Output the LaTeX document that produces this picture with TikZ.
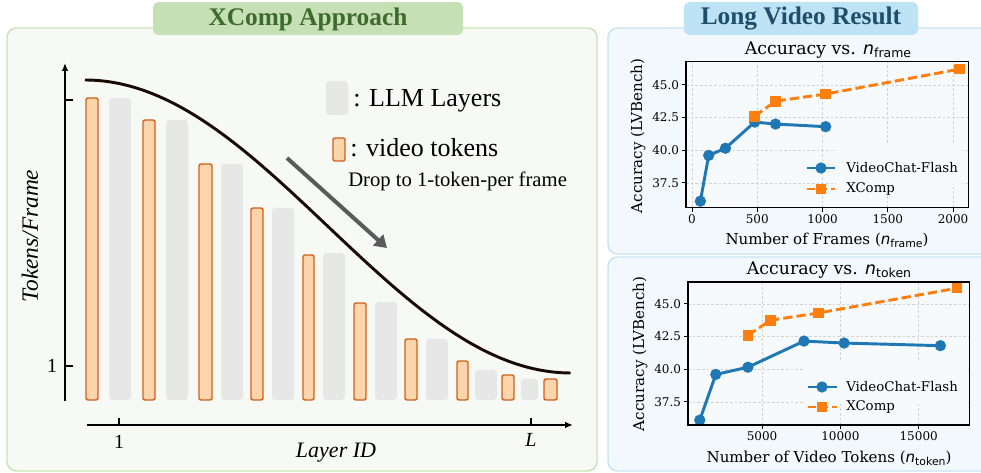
\documentclass[tikz,border=0pt]{standalone}
\usepackage{fontspec}
\setmainfont{Liberation Serif}
\newfontfamily\plotfont{DejaVu Serif}
\newfontfamily\plotsans{DejaVu Sans}
\usetikzlibrary{arrows.meta}
\definecolor{greenpanel}{HTML}{F7F9F4}
\definecolor{greenedge}{HTML}{C9E3B9}
\definecolor{greentab}{HTML}{C5E0B4}
\definecolor{greentext}{HTML}{3F6A2E}
\definecolor{bluepanel}{HTML}{F3F8FC}
\definecolor{blueedge}{HTML}{C6E2F4}
\definecolor{bluetab}{HTML}{BEE3F4}
\definecolor{bluetext}{HTML}{1F4E6A}
\definecolor{barorange}{HTML}{FDD5AC}
\definecolor{bardark}{HTML}{D2601A}
\definecolor{bargray}{HTML}{E7E7E7}
\definecolor{curvedark}{HTML}{1A0A05}
\definecolor{arrowgray}{HTML}{5A5A5A}
\definecolor{vcfblue}{HTML}{1F77B4}
\definecolor{xcorange}{HTML}{FF7F0E}
\definecolor{axesbg}{HTML}{F6FAFD}
\def\nsub#1{{\plotsans\itshape n}\raisebox{-0.4ex}{\scalebox{0.72}{\plotsans #1}}}

\tikzset{
  tokenbar/.style={fill=barorange, draw=bardark, line width=1.1pt, rounded corners=1.5pt},
  layerbar/.style={fill=bargray, rounded corners=2.5pt},
  vcfline/.style={draw=vcfblue, line width=2.2pt},
  xcline/.style={draw=xcorange, line width=2.2pt, dash pattern=on 7pt off 3pt},
  vcfdot/.style={circle, fill=vcfblue, inner sep=0pt, minimum size=8.5pt},
  xcsq/.style={rectangle, fill=xcorange, inner sep=0pt, minimum size=8pt},
  gridline/.style={draw=gray!35, line width=0.5pt, dash pattern=on 2pt off 1.5pt},
  ticktext/.style={font=\plotfont\fontsize{9}{9}\selectfont, inner sep=0pt},
  labeltext/.style={font=\plotfont\fontsize{11.3}{12}\selectfont, inner sep=0pt},
  legtext/.style={font=\plotfont\fontsize{10}{10}\selectfont, inner sep=0pt, anchor=west},
  tabtitle/.style={font=\fontsize{19}{19}\selectfont\bfseries, inner sep=0pt}
}

\begin{document}
\begin{tikzpicture}[x=0.75pt, y=-0.75pt]
  %%%%% START %%%%%
  \useasboundingbox (0,0) rectangle (981,473);

  % panels
  \draw[fill=greenpanel, draw=greenedge, line width=1.1pt, rounded corners=7pt] (7,28) rectangle (597,471);
  \draw[fill=bluepanel, draw=blueedge, line width=1.1pt, rounded corners=7pt] (608,28) rectangle (995,254);
  \draw[fill=bluepanel, draw=blueedge, line width=1.1pt, rounded corners=7pt] (608,257) rectangle (995,471);

  \fill[greentab, rounded corners=4pt] (153,2) rectangle (463,35);
  \node[tabtitle, text=greentext] (lefttitle) at (308,19) {XComp Approach};
  \fill[bluetab, rounded corners=4pt] (684,2) rectangle (918,35);
  \node[tabtitle, text=bluetext] (righttitle) at (801,19) {Long Video Result};

  % layers and tokens
  \foreach \xa/\xb/\yt in {109/131/98, 166/188/120, 221/243/164, 272/294/208, 323/345/253,
      375/397/302, 426/448/339, 475/497/370, 521/538/379}
    \fill[layerbar] (\xa,400) rectangle (\xb,\yt);
  \foreach \xa/\xb/\yt in {86/98/98, 143/155/120, 199/212/164, 251/263/208, 303/314/255,
      354/366/303, 405/417/339, 457/468/361, 502/514/375, 544/557/379}
    \draw[tokenbar] (\xa,400) rectangle (\xb,\yt);

  \draw[curvedark, line width=2.2pt] plot[domain=0:1, samples=80, smooth] ({85+486*\x}, {80+293*(1-cos(180*\x))/2});

  % axes
  \coordinate (ybot) at (65,401);
  \coordinate (ytop) at (65,63);
  \coordinate (xleft) at (87,425);
  \coordinate (xright) at (573,425);
  \draw[line width=1.5pt, -{Latex[length=6pt, width=5pt]}] (ybot) -- (ytop);
  \draw[line width=1.5pt, -{Latex[length=6pt, width=5pt]}] (xleft) -- (xright);
  \draw[line width=1.5pt] (65,100) -- (73,100);
  \draw[line width=1.5pt] (65,366) -- (73,366);
  \draw[line width=1.5pt] (119,418) -- (119,425);
  \draw[line width=1.5pt] (531,418) -- (531,425);
  \node[font=\fontsize{15}{15}\selectfont] (yone) at (52,366) {1};
  \node[font=\fontsize{15}{15}\selectfont] (xone) at (119,442) {1};
  \node[font=\fontsize{15}{15}\selectfont\itshape] (xlast) at (531,440) {L};
  \node[font=\fontsize{16.5}{16.5}\selectfont\itshape, anchor=base] (xname) at (336,458) {Layer ID};
  \node[font=\fontsize{17.5}{17.5}\selectfont\itshape, rotate=90] (yname) at (30,236) {Tokens/Frame};

  % legend
  \fill[layerbar] (326,81) rectangle (348,115);
  \draw[tokenbar] (333,138) rectangle (345,161);
  \node[font=\fontsize{19.5}{19.5}\selectfont, anchor=base west, inner sep=0pt] (layerkey) at (353,107) {: LLM Layers};
  \node[font=\fontsize{19.5}{19.5}\selectfont, anchor=base west, inner sep=0pt] (tokenkey) at (350,157) {: video tokens};
  \node[font=\fontsize{15.5}{15.5}\selectfont, anchor=base west, inner sep=0pt] (dropnote) at (348,187) {Drop to 1-token-per frame};

  \coordinate (droptail) at (287,158);
  \coordinate (drophead) at (387,248);
  \draw[arrowgray, line width=3pt, -{Triangle[length=9pt, width=11pt]}] (droptail) -- (drophead);

  % accuracy vs frames
  \begin{scope}[shift={(692,673)}, x=0.0979pt, y=9.8025pt]
    \fill[axesbg] (-46,35.59) rectangle (2115,46.76);
    \foreach \v [count=\i] in {0,500,1000,1500,2000} {
      \draw[gridline] (\v,35.59) -- (\v,46.76);
      \draw[line width=0.6pt] (\v,35.59) -- ++(0,-3pt);
      \node[ticktext, anchor=north, yshift=-5pt] (fxt\i) at (\v,35.59) {\v};
    }
    \foreach \v [count=\i] in {37.5,40.0,42.5,45.0} {
      \draw[gridline] (-46,\v) -- (2115,\v);
      \draw[line width=0.6pt] (-46,\v) -- ++(-3pt,0);
      \node[ticktext, anchor=east, xshift=-5pt] (fyt\i) at (-46,\v) {\v};
    }
    \fill[axesbg] (1105,37.35) rectangle (2075,40.55);
    \foreach \x/\y [count=\i] in {64/36.1, 128/39.6, 256/40.15, 480/42.15, 640/42.0, 1024/41.8}
      \coordinate (fv\i) at (\x,\y);
    \foreach \x/\y [count=\i] in {480/42.6, 640/43.75, 1024/44.3, 2048/46.2}
      \coordinate (fx\i) at (\x,\y);
    \draw[vcfline] (fv1) -- (fv2) -- (fv3) -- (fv4) -- (fv5) -- (fv6);
    \foreach \i in {1,...,6} \node[vcfdot] (fvm\i) at (fv\i) {};
    \draw[xcline] (fx1) -- (fx2) -- (fx3) -- (fx4);
    \foreach \i in {1,...,4} \node[xcsq] (fxm\i) at (fx\i) {};
    \draw[line width=0.8pt] (-46,35.59) rectangle (2115,46.76);
  \end{scope}
  \node[labeltext, font=\plotfont\fontsize{13}{13}\selectfont] (ftitle) at (828,50) {Accuracy vs. \nsub{frame}};
  \node[labeltext] (fxlabel) at (827,240) {Number of Frames (\nsub{frame})};
  \node[labeltext, rotate=90] (fylabel) at (638,136) {Accuracy (LVBench)};
  \coordinate (flv1) at (807,168); \coordinate (flv2) at (835,168);
  \coordinate (flx1) at (807,189); \coordinate (flx2) at (835,189);
  \draw[vcfline] (flv1) -- (flv2);
  \node[vcfdot] (flvm) at (821,168) {};
  \draw[xcline, dash pattern=on 6pt off 3pt] (flx1) -- (flx2);
  \node[xcsq] (flxm) at (821,189) {};
  \node[legtext] (flvt) at (846,168) {VideoChat-Flash};
  \node[legtext] (flxt) at (846,189) {XComp};

  % accuracy vs tokens
  \begin{scope}[shift={(683.7,892)}, x=0.011753pt, y=9.8025pt]
    \fill[axesbg] (274,35.73) rectangle (18271,46.67);
    \foreach \v [count=\i] in {5000,10000,15000} {
      \draw[gridline] (\v,35.73) -- (\v,46.67);
      \draw[line width=0.6pt] (\v,35.73) -- ++(0,-3pt);
      \node[ticktext, anchor=north, yshift=-5pt] (txt\i) at (\v,35.73) {\v};
    }
    \foreach \v [count=\i] in {37.5,40.0,42.5,45.0} {
      \draw[gridline] (274,\v) -- (18271,\v);
      \draw[line width=0.6pt] (274,\v) -- ++(-3pt,0);
      \node[ticktext, anchor=east, xshift=-5pt] (tyt\i) at (274,\v) {\v};
    }
    \fill[axesbg] (7600,37.4) rectangle (18000,40.6);
    \foreach \x/\y [count=\i] in {1024/36.1, 2048/39.6, 4096/40.15, 7680/42.15, 10240/42.0, 16384/41.8}
      \coordinate (tv\i) at (\x,\y);
    \foreach \x/\y [count=\i] in {4100/42.6, 5550/43.75, 8600/44.3, 17450/46.2}
      \coordinate (tx\i) at (\x,\y);
    \draw[vcfline] (tv1) -- (tv2) -- (tv3) -- (tv4) -- (tv5) -- (tv6);
    \foreach \i in {1,...,6} \node[vcfdot] (tvm\i) at (tv\i) {};
    \draw[xcline] (tx1) -- (tx2) -- (tx3) -- (tx4);
    \foreach \i in {1,...,4} \node[xcsq] (txm\i) at (tx\i) {};
    \draw[line width=0.8pt] (274,35.73) rectangle (18271,46.67);
  \end{scope}
  \node[labeltext, font=\plotfont\fontsize{13}{13}\selectfont] (ttitle) at (829,270) {Accuracy vs. \nsub{token}};
  \node[labeltext] (txlabel) at (829,458) {Number of Video Tokens (\nsub{token})};
  \node[labeltext, rotate=90] (tylabel) at (640,354) {Accuracy (LVBench)};
  \coordinate (tlv1) at (808,387); \coordinate (tlv2) at (837,387);
  \coordinate (tlx1) at (808,407); \coordinate (tlx2) at (837,407);
  \draw[vcfline] (tlv1) -- (tlv2);
  \node[vcfdot] (tlvm) at (822,387) {};
  \draw[xcline, dash pattern=on 6pt off 3pt] (tlx1) -- (tlx2);
  \node[xcsq] (tlxm) at (822,407) {};
  \node[legtext] (tlvt) at (846,387) {VideoChat-Flash};
  \node[legtext] (tlxt) at (846,407) {XComp};

  %%%%% END %%%%%
\end{tikzpicture}
\end{document}
